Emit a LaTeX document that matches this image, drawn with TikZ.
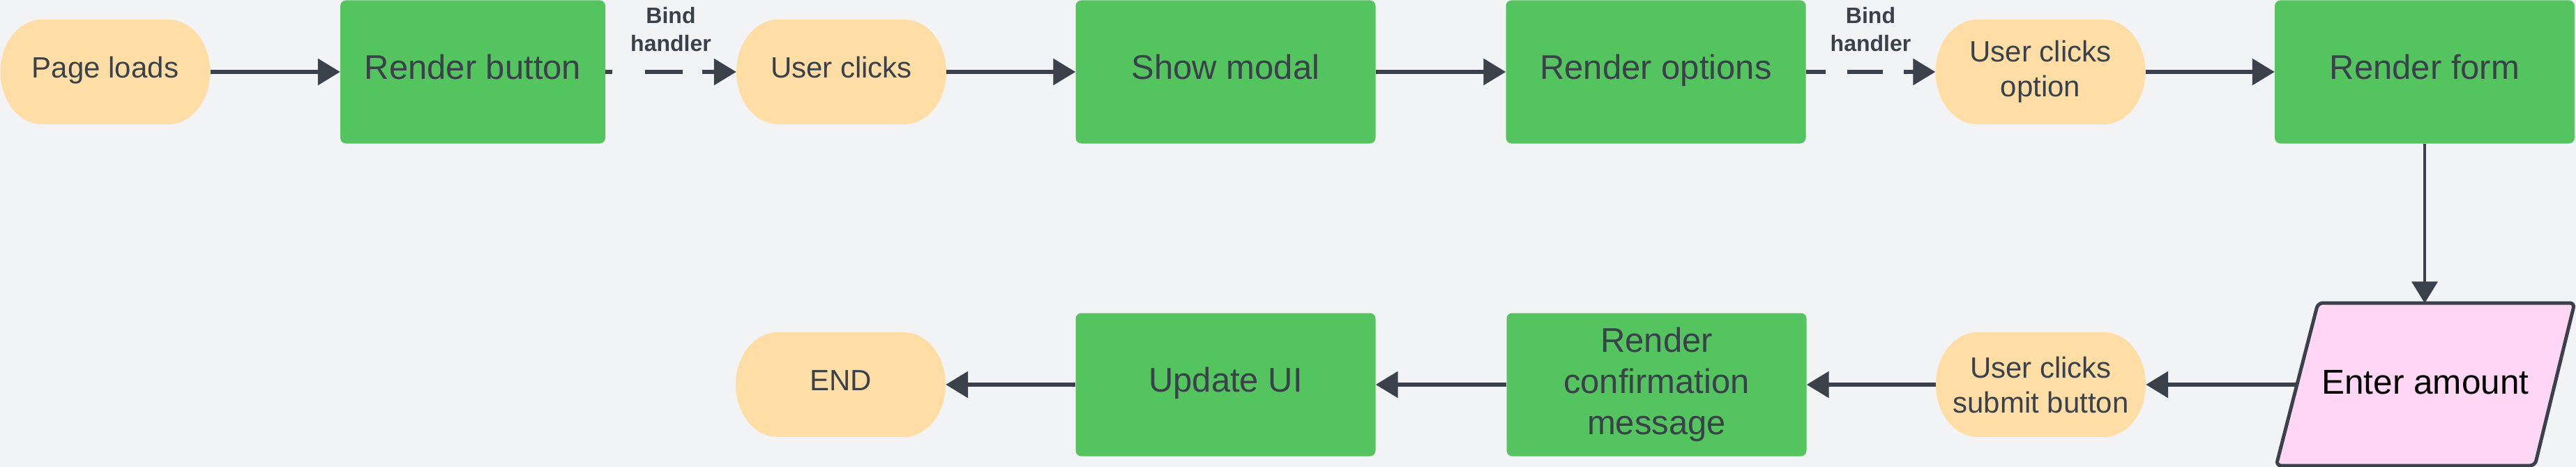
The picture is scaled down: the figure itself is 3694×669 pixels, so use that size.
\documentclass[tikz,border=0pt]{standalone}
\usepackage{fontspec}
\setmainfont{Liberation Sans}
\usetikzlibrary{arrows.meta}
\definecolor{bg}{HTML}{F2F3F5}
\definecolor{grn}{HTML}{54C45E}
\definecolor{org}{HTML}{FFDEA6}
\definecolor{pnk}{HTML}{FFD6F4}
\definecolor{ink}{HTML}{3A414A}
\begin{document}
\begin{tikzpicture}[x=1pt,y=1pt,
  proc/.style={fill=grn, rounded corners=8pt, minimum width=430pt, minimum height=205pt,
    inner sep=0pt, text=ink, font=\fontsize{49}{59}\selectfont, align=center},
  term/.style={minimum width=301pt, minimum height=150pt, inner sep=0pt, text=ink,
    font=\fontsize{42}{50}\selectfont, align=center,
    path picture={\fill[org] ([xshift=60pt]path picture bounding box.north west)
      -- ([xshift=-60pt]path picture bounding box.north east)
      arc[start angle=90,end angle=-90,x radius=60pt,y radius=75pt]
      -- ([xshift=60pt]path picture bounding box.south west)
      arc[start angle=270,end angle=90,x radius=60pt,y radius=75pt] -- cycle;}},
  io/.style={minimum width=370pt, minimum height=233pt, inner sep=0pt, text=black,
    font=\fontsize{49.5}{59}\selectfont, align=center, text height=42pt, text depth=14.6pt},
  oneP/.style={text height=40pt, text depth=19pt},
  oneT/.style={text height=33pt, text depth=17pt},
  flow/.style={draw=ink, line width=6pt, -{Triangle[length=32pt,width=37pt]}},
  vflow/.style={draw=ink, line width=4pt, -{Triangle[length=31pt,width=37pt]}},
  lbl/.style={text=ink, font=\fontsize{32}{40}\selectfont\bfseries, align=center}
]
\useasboundingbox (0,0) rectangle (3694,-669);
\fill[bg] (0,0) rectangle (3694,-669);

% top row
\node[term, oneT] (pl) at (151,-103) {Page loads};
\node[proc, oneP, minimum width=380pt] (rb) at (678,-103) {Render button};
\node[term, oneT] (uc) at (1206.5,-103) {User clicks};
\node[proc, oneP] (sm) at (1757.5,-103) {Show modal};
\node[proc, oneP] (ro) at (2374.5,-103) {Render options};
\node[term] (uco) at (2926,-103) {User clicks\\option};
\node[proc, oneP] (rf) at (3477,-103) {Render form};

% bottom row
\fill[pnk, draw=ink, line width=5pt, rounded corners=7pt]
  (3324,-434) -- (3692,-434) -- (3635,-667) -- (3264,-667) -- cycle;
\node[io] (ea) at (3478,-551) {Enter amount};
\node[term] (ucs) at (2926.5,-551) {User clicks\\submit button};
\node[proc] (rc) at (2375.5,-551) {Render\\confirmation\\message};
\node[proc, oneP] (uu) at (1757.5,-551) {Update UI};
\node[term, oneT] (end) at (1205.5,-551) {END};

% connectors
\draw[flow] (pl) -- (rb);
\draw[flow, dash pattern=on 10pt off 47pt on 54pt off 28pt on 100pt] (rb) -- (uc)
  node[midway, yshift=61pt, lbl] {Bind\\handler};
\draw[flow] (uc) -- (sm);
\draw[flow] (sm) -- (ro);
\draw[flow, dash pattern=on 28pt off 31pt on 51pt off 30pt on 100pt] (ro) -- (uco)
  node[midway, yshift=61pt, lbl] {Bind\\handler};
\draw[flow] (uco) -- (rf);
\draw[vflow] (rf.south) -- (rf.south |- ea.north);
\draw[flow] (ea.west) -- (ucs.east);
\draw[flow] (ucs) -- (rc);
\draw[flow] (rc) -- (uu);
\draw[flow] (uu) -- (end);
\end{tikzpicture}
\end{document}
